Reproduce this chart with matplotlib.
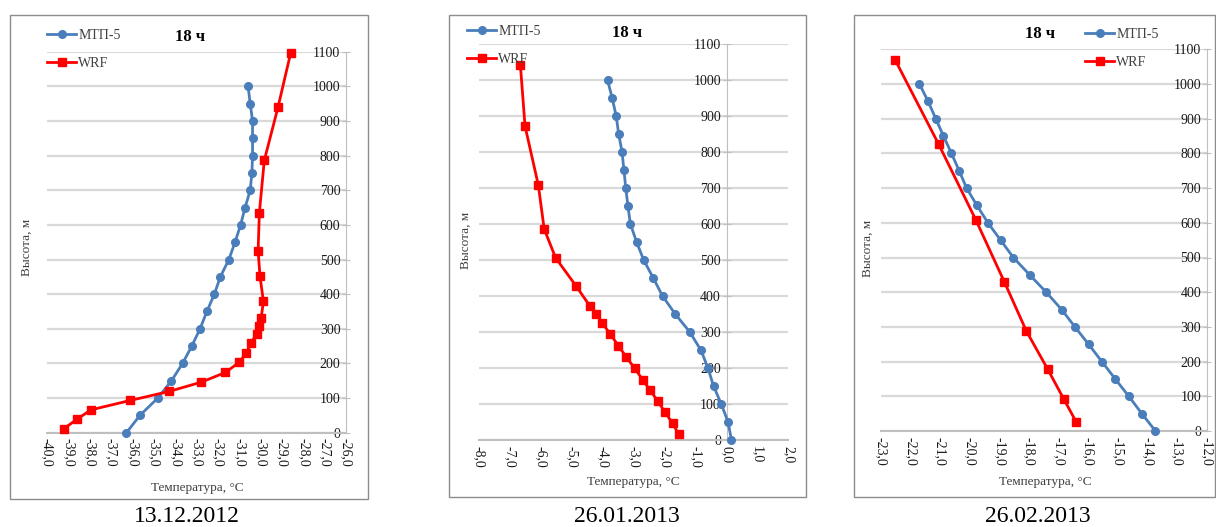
import matplotlib
matplotlib.use("Agg")
import matplotlib.pyplot as plt
from matplotlib.patches import Rectangle
from matplotlib.ticker import FuncFormatter, MultipleLocator

plt.rcParams['font.family'] = ['Liberation Serif', 'DejaVu Serif']

# ---- data -------------------------------------------------------------
series_names = ["МТП-5", "WRF"]
dates = ["13.12.2012", "26.01.2013", "26.02.2013"]
title_text = "18 ч"

# МТП-5 profiler heights (m)
h_mtp = [0, 50, 100, 150, 200, 250, 300, 350, 400, 450, 500,
         550, 600, 650, 700, 750, 800, 850, 900, 950, 1000]

# 13.12.2012
t1_mtp = [-36.29, -35.66, -34.82, -34.18, -33.66, -33.23, -32.84, -32.52,
          -32.17, -31.89, -31.49, -31.20, -30.94, -30.73, -30.49, -30.41,
          -30.38, -30.38, -30.38, -30.49, -30.59]
h1_wrf = [12, 39, 66, 93, 119, 146, 174, 203, 230, 259, 286, 308, 330,
          379, 451, 525, 635, 786, 939, 1097]
t1_wrf = [-39.21, -38.61, -37.95, -36.12, -34.30, -32.78, -31.65, -31.01,
          -30.67, -30.46, -30.17, -30.08, -29.98, -29.87, -30.03, -30.12,
          -30.06, -29.83, -29.19, -28.59]

# 26.01.2013
t2_mtp = [0.16, 0.05, -0.17, -0.42, -0.60, -0.83, -1.19, -1.66, -2.07,
          -2.37, -2.68, -2.91, -3.11, -3.19, -3.26, -3.32, -3.38, -3.49,
          -3.57, -3.70, -3.85]
h2_wrf = [16, 46, 77, 109, 139, 167, 199, 230, 262, 294, 326, 350, 372,
          428, 506, 586, 708, 872, 1041]
t2_wrf = [-1.55, -1.74, -1.99, -2.23, -2.48, -2.71, -2.97, -3.24, -3.50,
          -3.76, -4.03, -4.21, -4.42, -4.87, -5.53, -5.90, -6.09, -6.52,
          -6.67]

# 26.02.2013
t3_mtp = [-13.73, -14.19, -14.63, -15.09, -15.54, -15.99, -16.45, -16.90,
          -17.42, -17.98, -18.53, -18.96, -19.39, -19.76, -20.11, -20.36,
          -20.62, -20.89, -21.15, -21.41, -21.70]
h3_wrf = [25, 91, 178, 288, 429, 607, 826, 1069]
t3_wrf = [-16.40, -16.82, -17.37, -18.09, -18.83, -19.79, -21.05, -22.52]

y_ticks = [0, 100, 200, 300, 400, 500, 600, 700, 800, 900, 1000, 1100]

# ---- styling ----------------------------------------------------------
W, H = 1216, 527
BLUE = "#4A7EBB"
RED = "#FF0000"
GRID = "#D9D9D9"
AXIS = "#BFBFBF"
TXT = "#1A1A1A"

fig = plt.figure(figsize=(W / 100, H / 100), dpi=100)


def fx(px):
    return px / W


def fy(py):
    return 1 - py / H


panels = [
    dict(mtp=(t1_mtp, h_mtp), wrf=(t1_wrf, h1_wrf), xlim=(-40, -26), cross=-26,
         ax_px=(47.3, 346.0, 51.7, 432.7), frame=(10, 15, 368, 499),
         leg=(47, 29), title=(190, 37), ylab=(27, 247), xlab=(197, 488),
         date=(187, 517)),
    dict(mtp=(t2_mtp, h_mtp), wrf=(t2_wrf, h2_wrf), xlim=(-8, 2), cross=0,
         ax_px=(479.3, 788.3, 44.0, 440.0), frame=(449, 15, 806, 497),
         leg=(467, 25), title=(627, 33), ylab=(466, 240), xlab=(633, 482),
         date=(627, 517)),
    dict(mtp=(t3_mtp, h_mtp), wrf=(t3_wrf, h3_wrf), xlim=(-23, -12), cross=-12,
         ax_px=(881.0, 1206.7, 49.3, 431.0), frame=(854, 15, 1215, 497),
         leg=(1085, 28), title=(1040, 34), ylab=(868, 248), xlab=(1045, 482),
         date=(1038, 517)),
]

comma_fmt = FuncFormatter(lambda v, p: f"{v:.1f}".replace(".", ",").replace("-0,0", "0,0"))

for p in panels:
    # light panel frame
    fx0, fy0, fx1, fy1 = p["frame"]
    fig.patches.append(Rectangle((fx(fx0), fy(fy1)), fx(fx1 - fx0), (fy1 - fy0) / H,
                                 transform=fig.transFigure, fill=False,
                                 edgecolor="#8C8C8C", linewidth=1.0, zorder=0))

    x0, x1, yt, yb = p["ax_px"]
    ax = fig.add_axes([fx(x0), fy(yb), fx(x1 - x0), (yb - yt) / H])
    ax.patch.set_alpha(0)
    ax.set_xlim(*p["xlim"])
    ax.set_ylim(0, 1100)

    for s in ("top", "right"):
        ax.spines[s].set_visible(False)
    ax.spines["left"].set_position(("data", p["cross"]))
    ax.spines["left"].set_color(AXIS)
    ax.spines["bottom"].set_color(AXIS)
    ax.spines["bottom"].set_linewidth(1.5)

    ax.set_yticks(y_ticks)
    ax.xaxis.set_major_locator(MultipleLocator(1))
    ax.xaxis.set_major_formatter(comma_fmt)
    ax.yaxis.grid(True, color=GRID, linewidth=1.6)
    ax.set_axisbelow(True)
    ax.tick_params(axis="y", direction="inout", length=6, color=AXIS,
                   labelsize=10, labelcolor=TXT, pad=1)
    ax.tick_params(axis="x", length=0, labelsize=10, labelcolor=TXT, pad=4,
                   labelrotation=270)

    lb, = ax.plot(*p["mtp"], color=BLUE, linewidth=2.0, marker="o",
                  markersize=5.5, label=series_names[0], clip_on=False, zorder=3)
    lr, = ax.plot(*p["wrf"], color=RED, linewidth=2.0, marker="s",
                  markersize=5.5, label=series_names[1], clip_on=False, zorder=3)

    lx, ly = p["leg"]
    ax.legend(handles=[lb, lr], loc="upper left", bbox_to_anchor=(fx(lx), fy(ly)),
              bbox_transform=fig.transFigure, frameon=False, borderpad=0,
              borderaxespad=0, handlelength=2.1, handletextpad=0.15,
              labelspacing=1.05, numpoints=1, fontsize=10,
              labelcolor="#404040")

    tx, ty = p["title"]
    fig.text(fx(tx), fy(ty), title_text, ha="center", va="center",
             fontsize=12, fontweight="bold", color="black")
    yx, yy = p["ylab"]
    fig.text(fx(yx), fy(yy), "Высота, м", rotation=90, ha="center",
             va="center", fontsize=9.5, color="#404040")
    xx, xy = p["xlab"]
    fig.text(fx(xx), fy(xy), "Температура, °С", ha="center", va="center",
             fontsize=9.5, color="#404040")

for p, d in zip(panels, dates):
    dx, dy = p["date"]
    fig.text(fx(dx), fy(dy), d, ha="center", va="center", fontsize=17,
             color="black")

fig.savefig("out.png", dpi=100, facecolor="white")
